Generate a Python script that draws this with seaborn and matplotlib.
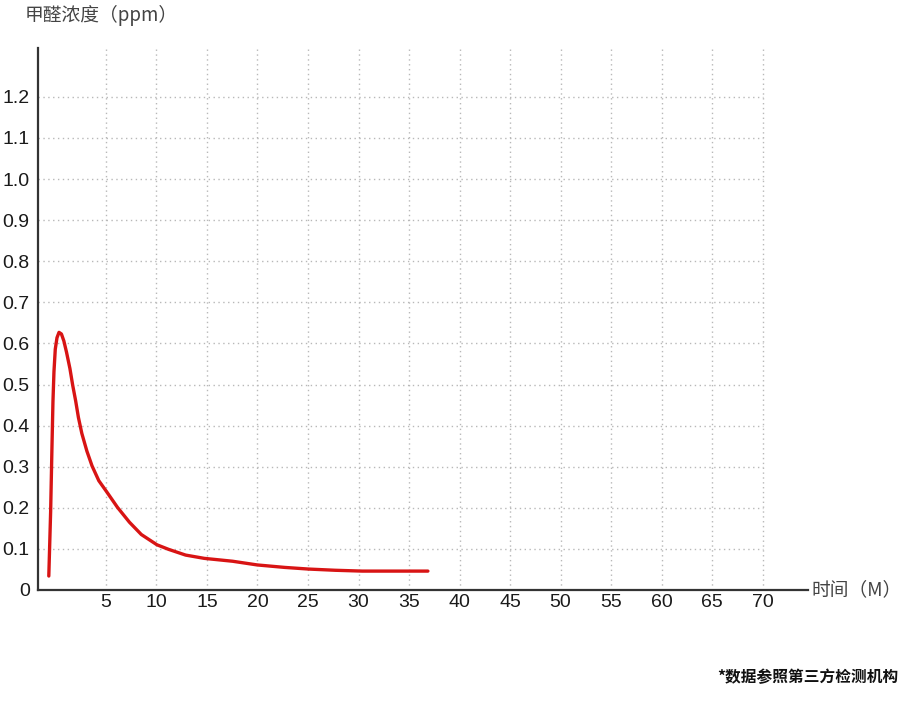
import numpy as np
import pandas as pd
import matplotlib
matplotlib.use("Agg")
import matplotlib.pyplot as plt
import seaborn as sns


# ==========================
# 数据
# ==========================
months = [-0.66, -0.48, -0.35, -0.25, -0.15, -0.02, 0.15, 0.35, 0.59, 0.83,
          1.09, 1.43, 1.70, 2.0, 2.27, 2.61, 3.11, 3.62, 4.29, 5.07,
          6.14, 7.32, 8.50, 10.05, 11.19, 12.88, 14.73, 17.53, 19.97, 22.68,
          25.03, 27.7, 30.37, 35.03, 36.87]
formaldehyde = [0.034, 0.190, 0.345, 0.458, 0.531, 0.586, 0.614, 0.627, 0.623, 0.606,
                0.579, 0.539, 0.499, 0.460, 0.420, 0.381, 0.338, 0.302, 0.266, 0.239,
                0.201, 0.165, 0.135, 0.110, 0.099, 0.085, 0.077, 0.070, 0.061, 0.055,
                0.051, 0.048, 0.046, 0.046, 0.046]

x_ticks = [5, 10, 15, 20, 25, 30, 35, 40, 45, 50, 55, 60, 65, 70]
y_ticks = [0, 0.1, 0.2, 0.3, 0.4, 0.5, 0.6, 0.7, 0.8, 0.9, 1.0, 1.1, 1.2]
y_labels = ["0", "0.1", "0.2", "0.3", "0.4", "0.5", "0.6", "0.7", "0.8", "0.9", "1.0", "1.1", "1.2"]

df = pd.DataFrame({"month": months, "ppm": formaldehyde})


# ==========================
# 绘图
# ==========================
sns.set_style("white")
plt.rcParams["font.family"] = ["Liberation Sans", "Noto Sans CJK SC", "DejaVu Sans"]
cjk = ["Noto Sans CJK SC", "DejaVu Sans"]

fig = plt.figure(figsize=(9, 7.06), dpi=100)
ax = fig.add_axes([38 / 900, 116 / 706, (808 - 38) / 900, (590 - 48) / 706])

x_min, x_max = -1.73, 74.5
y_min, y_max = 0, 1.319
ax.set_xlim(x_min, x_max)
ax.set_ylim(y_min, y_max)

# 网格（虚点线）
grid_kw = dict(color="#b8b8b8", linestyle=(0, (1, 2.5)), linewidth=1.0, zorder=0)
ax.hlines(y_ticks[1:], x_min, x_ticks[-1], **grid_kw)
ax.vlines(x_ticks, y_min, y_max, **grid_kw)

sns.lineplot(data=df, x="month", y="ppm", ax=ax, color="#d81414",
             linewidth=2.4, sort=False, zorder=3)

for side in ["top", "right"]:
    ax.spines[side].set_visible(False)
for side in ["left", "bottom"]:
    ax.spines[side].set_color("#333333")
    ax.spines[side].set_linewidth(1.6)

ax.set_xticks(x_ticks)
ax.set_xticklabels([str(t) for t in x_ticks])
ax.set_yticks(y_ticks)
ax.set_yticklabels(y_labels)
ax.tick_params(axis="both", direction="in", length=7, width=1.6,
               color="#222222", labelsize=14, labelcolor="#1a1a1a")
ax.tick_params(axis="y", pad=6)
ax.tick_params(axis="x", pad=3)
ax.set_xlabel("")
ax.set_ylabel("")

fig.text(25 / 900, 1 - 15 / 706, "甲醛浓度（ppm）", fontsize=13.5, family=cjk,
         color="#444444", ha="left", va="center")
fig.text(811 / 900, 1 - 590 / 706, "时间（M）", fontsize=13.5, family=cjk,
         color="#444444", ha="left", va="center")
fig.text(898 / 900, 1 - 677 / 706, "*数据参照第三方检测机构", fontsize=11.3, family=cjk,
         fontweight="bold", color="#111111", ha="right", va="center")

fig.savefig("out.png", dpi=100)
